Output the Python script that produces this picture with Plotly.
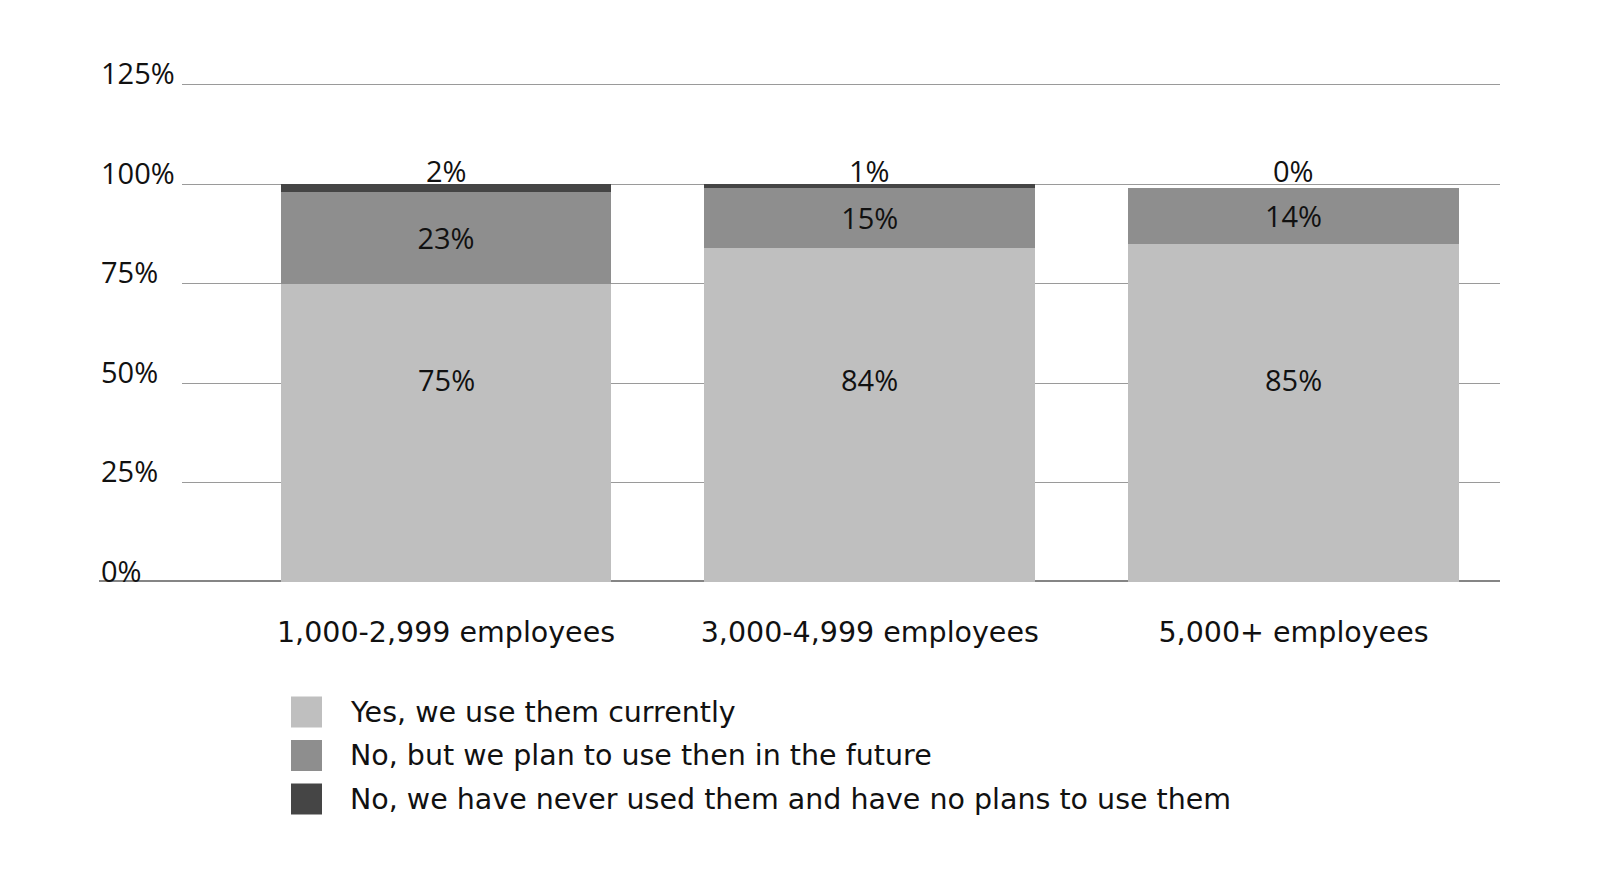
import plotly.graph_objects as go

categories = ["1,000-2,999 employees", "3,000-4,999 employees", "5,000+ employees"]
series_names = [
    "Yes, we use them currently",
    "No, but we plan to use then in the future",
    "No, we have never used them and have no plans to use them",
]
yes_current = [75, 84, 85]
plan_future = [23, 15, 14]
never_used = [2, 1, 0]
y_ticks = [0, 25, 50, 75, 100, 125]

colors = ["#bfbfbf", "#8e8e8e", "#454545"]
WORD_FONT = "DejaVu Sans"
NUM_FONT = "Open Sans"
WFS = 28.5
NFS = 29
TXT = "#111111"

# page body has an 8px margin; work in figure coordinates (page - 8)
OFF = 8
W, H = 1600 - 2 * OFF, 871 - 2 * OFF
ml = 182 - OFF
mt = 83 - OFF
plot_right = 1500 - OFF
plot_bottom = 582 - OFF
mr = W - plot_right
mb = H - plot_bottom
pw, ph = W - ml - mr, H - mt - mb

x = list(range(len(categories)))
fig = go.Figure()
values = [yes_current, plan_future, never_used]
for i, (name, vals) in enumerate(zip(series_names, values)):
    fig.add_trace(go.Bar(
        x=x, y=vals, name=name, marker=dict(color=colors[i], line=dict(width=0)),
        width=0.78, showlegend=False,
        text=[f"{v}%" for v in vals] if i == 1 else None,
        textposition="inside" if i == 1 else None,
        insidetextanchor="middle",
        insidetextfont=dict(family=NUM_FONT, size=NFS, color=TXT),
        constraintext="none",
        hoverinfo="skip",
    ))

annotations = []
LIGHT_LABEL_Y = 51
TOP_LABEL_Y = 100
nfont = dict(family=NUM_FONT, size=NFS, color=TXT)
for xi, v in zip(x, yes_current):
    annotations.append(dict(x=xi, y=LIGHT_LABEL_Y, xref="x", yref="y", text=f"{v}%",
                            showarrow=False, font=nfont))
for xi, c in zip(x, never_used):
    annotations.append(dict(x=xi, y=TOP_LABEL_Y, xref="x", yref="y", text=f"{c}%",
                            showarrow=False, yanchor="middle", yshift=14, font=nfont))
lab_x = (99 - OFF - ml) / pw
for t in y_ticks:
    annotations.append(dict(x=lab_x, y=t, xref="paper", yref="y", text=f"{t}%",
                            showarrow=False, xanchor="left", yanchor="middle", yshift=12,
                            font=nfont))

shapes = [dict(type="line", xref="paper", yref="y", x0=lab_x, x1=1, y0=0, y1=0,
               line=dict(color="#858585", width=4), layer="below")]

# custom legend
leg_x0, leg_y0, leg_dy, sq = 291 - OFF, 712 - OFF, 43.5, 31
text_x = 348 - OFF
for i, name in enumerate(series_names):
    cy = leg_y0 + i * leg_dy
    shapes.append(dict(type="rect", xref="paper", yref="paper",
                       x0=(leg_x0 - ml) / pw, x1=(leg_x0 + sq - ml) / pw,
                       y0=(plot_bottom - (cy + sq / 2)) / ph, y1=(plot_bottom - (cy - sq / 2)) / ph,
                       fillcolor=colors[i], line=dict(width=0)))
    annotations.append(dict(x=(text_x - ml) / pw, y=(plot_bottom - cy) / ph, xref="paper", yref="paper",
                            text=name, showarrow=False, xanchor="left", yanchor="middle",
                            font=dict(family=WORD_FONT, size=WFS, color=TXT)))

# x range: category centres at page x 446, 870, 1293.5
unit = (1293.5 - 446) / 2
x_lo = (182 - 446) / unit
x_hi = (1500 - 446) / unit

fig.update_layout(
    barmode="stack",
    width=W, height=H,
    margin=dict(l=ml, r=mr, t=mt, b=mb),
    plot_bgcolor="white", paper_bgcolor="white",
    font=dict(family=WORD_FONT, size=WFS, color=TXT),
    xaxis=dict(range=[x_lo, x_hi], tickvals=x, ticktext=categories, showgrid=False,
               zeroline=False, showline=False, ticks="", ticklabelstandoff=30,
               tickfont=dict(family=WORD_FONT, size=WFS, color=TXT)),
    yaxis=dict(range=[0, 125.4], tickvals=y_ticks, showticklabels=False, showgrid=True,
               gridcolor="#9a9a9a", gridwidth=1, zeroline=False, showline=False),
    annotations=annotations,
    shapes=shapes,
)

fig.write_html("out.html")
